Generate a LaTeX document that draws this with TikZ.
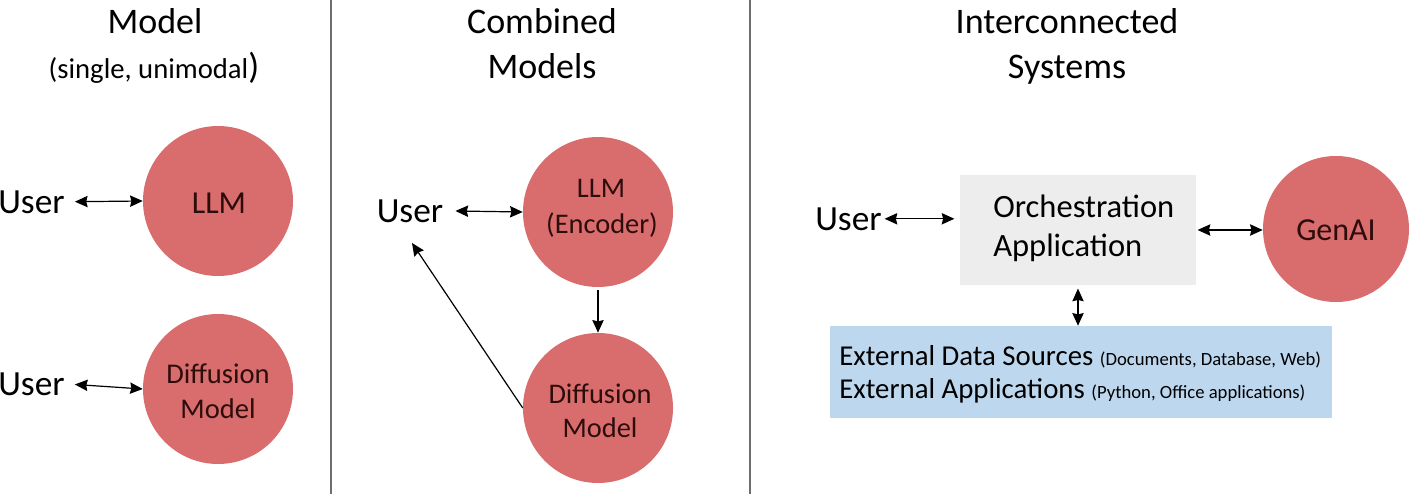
\documentclass[tikz,border=0pt]{standalone}
\usepackage{fontspec}
\setmainfont{Carlito}
\usetikzlibrary{arrows.meta}
\definecolor{circred}{RGB}{217,108,108}
\definecolor{boxgray}{RGB}{237,237,237}
\definecolor{boxblue}{RGB}{189,215,238}
\definecolor{inktext}{RGB}{45,12,12}
\definecolor{divgray}{RGB}{110,110,110}
\tikzset{
  circnode/.style={circle, fill=circred, draw=none, minimum size=112.5pt, inner sep=0pt},
  txt/.style={inner sep=0pt, text=black},
  ctxt/.style={inner sep=0pt, text=inktext, anchor=base},
  titlefont/.style={font=\fontsize{27}{32}\selectfont},
  userfont/.style={font=\fontsize{26.5}{32}\selectfont},
  conn/.style={line width=0.9pt, draw=black},
  tipshape/.style={},
  biarrow/.style={conn, {Stealth[length=9.5pt,width=8.5pt,inset=1pt]}-{Stealth[length=9.5pt,width=8.5pt,inset=1pt]}},
  onearrow/.style={conn, -{Stealth[length=9.5pt,width=8.5pt,inset=1pt]}},
  divider/.style={line width=1.1pt, draw=divgray},
}
\begin{document}
\begin{tikzpicture}[x=0.75pt,y=-0.75pt]
\useasboundingbox (0,0) rectangle (1411,496);
% dividers
\coordinate (d1t) at (331,0); \coordinate (d1b) at (331,494);
\coordinate (d2t) at (750,0); \coordinate (d2b) at (750,494);
\draw[divider] (d1t) -- (d1b);
\draw[divider] (d2t) -- (d2b);
% titles
\node[txt, titlefont, anchor=base] (t1) at (155,33) {Model};
\node[txt, anchor=base] (t1b) at (154,78) {\fontsize{21.5}{26}\selectfont(single, unimodal\fontsize{27}{32}\selectfont)};
\node[txt, titlefont, anchor=base] (t2) at (542,33) {Combined};
\node[txt, titlefont, anchor=base] (t2b) at (542,78) {Models};
\node[txt, titlefont, anchor=base] (t3) at (1067,33) {Interconnected};
\node[txt, titlefont, anchor=base] (t3b) at (1067,78) {Systems};
% panel 1
\node[circnode] (c1) at (218,201) {};
\node[ctxt, font=\fontsize{24}{28}\selectfont] (c1t) at (219,213) {LLM};
\node[circnode] (c2) at (218,389) {};
\node[ctxt, font=\fontsize{21.4}{26}\selectfont] (c2t) at (218,383) {Diffusion};
\node[ctxt, font=\fontsize{21.4}{26}\selectfont] (c2u) at (218,418) {Model};
\node[txt, userfont, anchor=base west] (u1) at (-2,213) {User};
\node[txt, userfont, anchor=base west] (u1b) at (-2,395) {User};
\draw[biarrow, shorten <=7.5pt] (u1.east) -- (c1.west);
\draw[biarrow, shorten <=7.5pt] (u1b.east) -- (c2.west);
% panel 2
\node[circnode] (enc) at (598,212) {};
\node[ctxt, font=\fontsize{21.3}{26}\selectfont] (enct) at (601,197) {LLM};
\node[ctxt, font=\fontsize{21.3}{26}\selectfont] (encu) at (602,233) {(Encoder)};
\node[circnode] (dif) at (598,408) {};
\node[ctxt, font=\fontsize{21.3}{26}\selectfont] (dift) at (600,403) {Diffusion};
\node[ctxt, font=\fontsize{21.3}{26}\selectfont] (difu) at (600,437) {Model};
\node[txt, userfont, anchor=base] (u2) at (410,222) {User};
\coordinate (u2tip) at (412,243);
\draw[biarrow, shorten <=9pt] (u2.east) -- (enc.west);
\draw[onearrow, shorten <=2pt] (enc.south) -- (dif.north);
\draw[onearrow] (dif.west) -- (u2tip);
% panel 3
\node[fill=boxgray, draw=none, minimum width=177pt, minimum height=82.5pt, inner sep=0pt] (orch) at (1078,230) {};
\node[txt, font=\fontsize{24.4}{29}\selectfont, anchor=base west] (orcht) at (993,217) {Orchestration};
\node[txt, font=\fontsize{24.4}{29}\selectfont, anchor=base west] (orchu) at (993,256) {Application};
\node[circnode, minimum size=109.5pt] (gen) at (1336,229) {};
\node[ctxt, font=\fontsize{24}{28}\selectfont] (gent) at (1336,240) {GenAI};
\node[fill=boxblue, draw=none, minimum width=376.5pt, minimum height=69pt, inner sep=0pt] (ext) at (1081,372) {};
\node[txt, anchor=base west] (ext1) at (839,365) {\fontsize{21.6}{26}\selectfont External Data Sources \fontsize{14}{17}\selectfont(Documents, Database, Web)};
\node[txt, anchor=base west] (ext2) at (839,398) {\fontsize{21.6}{26}\selectfont External Applications \fontsize{14}{17}\selectfont(Python, Office applications)};
\node[txt, userfont, anchor=base west] (u3) at (815,230) {User};
\draw[biarrow, shorten <=2pt, shorten >=4pt] (u3.east) -- (u3.east -| orch.west);
\draw[biarrow, shorten <=1pt] (orch.east) -- (orch.east -| gen.west);
\draw[biarrow, shorten <=2.5pt] (orch.south) -- (orch.south |- ext.north);
\end{tikzpicture}
\end{document}
